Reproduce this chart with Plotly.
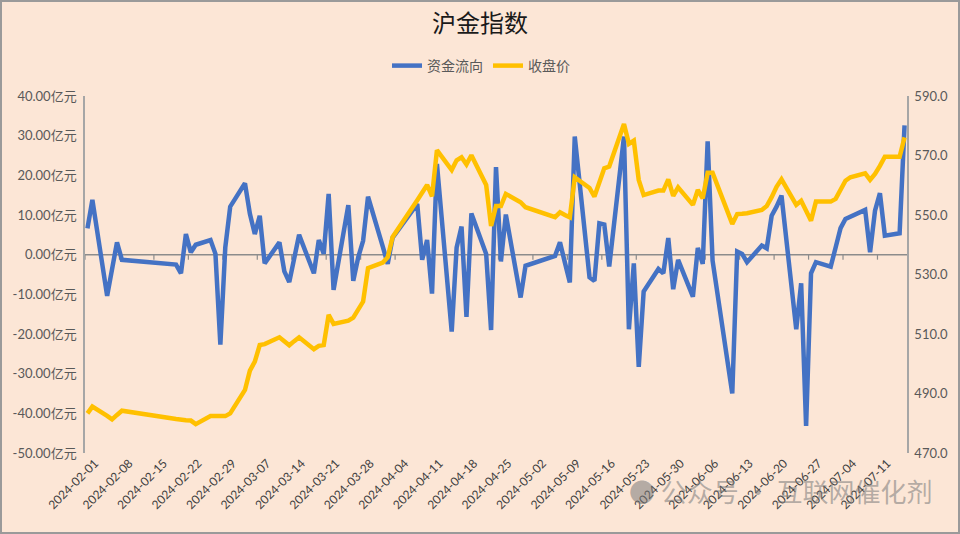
import plotly.graph_objects as go
from datetime import datetime, timedelta

# ---------------- data ----------------
dates = [
    "2024-02-01", "2024-02-02", "2024-02-05", "2024-02-06", "2024-02-07", "2024-02-08",
    "2024-02-19", "2024-02-20", "2024-02-21", "2024-02-22", "2024-02-23",
    "2024-02-26", "2024-02-27", "2024-02-28", "2024-02-29", "2024-03-01",
    "2024-03-04", "2024-03-05", "2024-03-06", "2024-03-07", "2024-03-08",
    "2024-03-11", "2024-03-12", "2024-03-13", "2024-03-14", "2024-03-15",
    "2024-03-18", "2024-03-19", "2024-03-20", "2024-03-21", "2024-03-22",
    "2024-03-25", "2024-03-26", "2024-03-27", "2024-03-28", "2024-03-29",
    "2024-04-01", "2024-04-02", "2024-04-03",
    "2024-04-08", "2024-04-09", "2024-04-10", "2024-04-11", "2024-04-12",
    "2024-04-15", "2024-04-16", "2024-04-17", "2024-04-18", "2024-04-19",
    "2024-04-22", "2024-04-23", "2024-04-24", "2024-04-25", "2024-04-26",
    "2024-04-29", "2024-04-30",
    "2024-05-06", "2024-05-07", "2024-05-08", "2024-05-09", "2024-05-10",
    "2024-05-13", "2024-05-14", "2024-05-15", "2024-05-16", "2024-05-17",
    "2024-05-20", "2024-05-21", "2024-05-22", "2024-05-23", "2024-05-24",
    "2024-05-27", "2024-05-28", "2024-05-29", "2024-05-30", "2024-05-31",
    "2024-06-03", "2024-06-04", "2024-06-05", "2024-06-06", "2024-06-07",
    "2024-06-11", "2024-06-12", "2024-06-13", "2024-06-14",
    "2024-06-17", "2024-06-18", "2024-06-19", "2024-06-20", "2024-06-21",
    "2024-06-24", "2024-06-25", "2024-06-26", "2024-06-27", "2024-06-28",
    "2024-07-01", "2024-07-02", "2024-07-03", "2024-07-04", "2024-07-05",
    "2024-07-08", "2024-07-09", "2024-07-10", "2024-07-11", "2024-07-12",
    "2024-07-15", "2024-07-16",
]

flow = [  # 资金流向 (亿元)
    6.6, 13.8, -10.4, -3.6, 3.1, -1.3,
    -2.5, -4.7, 5.2, 0.6, 2.5,
    3.7, 0.2, -22.7, 1.8, 12.1,
    18.0, 10.3, 5.2, 9.8, -2.2,
    3.1, -4.2, -6.9, -1.0, 5.0,
    -4.7, 3.7, 0.2, 15.3, -8.9,
    12.5, -6.6, -0.7, 3.5, 14.6,
    2.0, -2.3, 4.3,
    12.8, -1.3, 3.7, -9.8, 22.9,
    -19.4, 1.8, 7.1, -15.7, 10.4,
    0.2, -19.0, 22.1, -1.7, 10.1,
    -10.8, -2.8,
    -0.3, 3.1, -2.0, -7.0, 29.8,
    -5.7, -6.6, 7.9, 7.6, -3.0,
    29.8, -18.8, -2.2, -28.3, -9.3,
    -3.6, -4.7, 4.2, -8.7, -1.3,
    -10.6, 1.7, -2.3, 28.6, -1.5,
    -35.0, 0.8, 0.2, -1.9,
    2.3, 1.6, 9.8, 12.1, 14.9,
    -18.8, -7.2, -43.2, -4.7, -1.9,
    -3.0, 1.8, 6.7, 9.0, 9.6,
    11.3, 0.6, 11.1, 15.5, 4.8,
    5.4, 32.6,
]

close = [  # 收盘价
    483.3, 485.6, 482.5, 481.3, 482.8, 484.2,
    481.4, 481.1, 481.0, 480.9, 479.7,
    482.4, 482.4, 482.4, 482.4, 483.3,
    491.2, 497.7, 500.7, 506.3, 506.6,
    508.9, 507.5, 506.2, 507.6, 508.9,
    504.9, 506.0, 506.3, 516.4, 513.4,
    514.5, 515.5, 518.3, 520.9, 532.1,
    534.0, 535.8, 542.6,
    555.0, 557.5, 560.1, 556.3, 571.8,
    565.1, 568.4, 569.4, 567.0, 570.1,
    560.1, 546.3, 553.0, 553.0, 557.1,
    554.3, 552.6,
    549.3, 550.9, 550.0, 549.2, 562.7,
    559.1, 556.2, 561.0, 565.7, 566.3,
    580.6, 573.9, 575.0, 561.8, 556.7,
    558.2, 558.2, 562.0, 556.4, 559.3,
    553.4, 558.4, 555.6, 564.2, 564.2,
    547.0, 550.3, 550.4, 550.6,
    551.7, 553.0, 556.0, 559.5, 562.0,
    553.4, 554.8, 551.5, 548.1, 554.5,
    554.5, 555.4, 558.6, 561.5, 562.7,
    564.0, 561.8, 563.8, 566.5, 569.6,
    569.6, 576.1,
]

tick_labels = [
    "2024-02-01", "2024-02-08", "2024-02-15", "2024-02-22", "2024-02-29",
    "2024-03-07", "2024-03-14", "2024-03-21", "2024-03-28", "2024-04-04",
    "2024-04-11", "2024-04-18", "2024-04-25", "2024-05-02", "2024-05-09",
    "2024-05-16", "2024-05-23", "2024-05-30", "2024-06-06", "2024-06-13",
    "2024-06-20", "2024-06-27", "2024-07-04", "2024-07-11",
]

left_ticks = [-50, -40, -30, -20, -10, 0, 10, 20, 30, 40]
left_tick_text = [f"{v:.2f}亿元" for v in left_ticks]
right_ticks = [470, 490, 510, 530, 550, 570, 590]
right_tick_text = [f"{v:.1f}" for v in right_ticks]

# ---------------- styling ----------------
BG = "#FCE6D6"
AXIS = "#A6A6A6"
TXT = "#595959"
FONT = "Lato, 'Noto Sans CJK SC', sans-serif"
CJK = "'Noto Sans CJK SC', sans-serif"

fmt = "%Y-%m-%d %H:%M"
def shift(d, hours):
    return (datetime.strptime(d, "%Y-%m-%d") + timedelta(hours=hours)).strftime(fmt)

x_start = shift(dates[0], -12)
x_end = shift(dates[-1], 12)
tick_edges = [shift(t, -12) for t in tick_labels]      # Excel slot edges
label_pos = [shift(t, 36) for t in tick_labels]        # label anchors

fig = go.Figure()
fig.add_trace(go.Scatter(
    x=dates, y=flow, name="资金流向", mode="lines",
    line=dict(color="#4472C4", width=4.5), yaxis="y",
))
fig.add_trace(go.Scatter(
    x=dates, y=close, name="收盘价", mode="lines",
    line=dict(color="#FFC000", width=4.5), yaxis="y2",
))

shapes = [
    dict(type="line", xref="paper", yref="y", x0=0, x1=1, y0=0, y1=0,
         line=dict(color="#8C8C8C", width=1.5), layer="below"),
    dict(type="rect", xref="paper", yref="paper",
         x0=(1 - 85) / 822, x1=(959 - 85) / 822,
         y0=(453 - 533) / 357, y1=(453 - 1) / 357,
         line=dict(color="#9A9A9A", width=2), fillcolor="rgba(0,0,0,0)", layer="below"),
]
for t in tick_edges:
    shapes.append(dict(type="line", xref="x", yref="y", x0=t, x1=t,
                       ysizemode="pixel", yanchor=0, y0=0, y1=-5,
                       line=dict(color="#8C8C8C", width=1.2), layer="below"))

fig.update_layout(
    width=960, height=534,
    margin=dict(l=85, r=53, t=96, b=81),
    paper_bgcolor=BG, plot_bgcolor=BG,
    font=dict(family=FONT, color=TXT),
    title=dict(text="沪金指数", x=0.5, xanchor="center", y=1 - 24 / 534, yanchor="middle",
               font=dict(size=24, color="#1a1a1a", family=CJK)),
    legend=dict(orientation="h", x=(481 - 85) / 822, xanchor="center",
                y=(453 - 66) / 357, yanchor="middle",
                font=dict(size=14, color=TXT, family=CJK), bgcolor="rgba(0,0,0,0)",
                itemwidth=30, tracegroupgap=0),
    xaxis=dict(type="date", range=[x_start, x_end], tickmode="array",
               tickvals=label_pos, ticktext=tick_labels, tickangle=-45,
               showgrid=False, showline=False, zeroline=False, ticks="",
               tickfont=dict(size=12, color="#404040", family=FONT)),
    yaxis=dict(range=[-50, 40], tickmode="array", tickvals=left_ticks,
               ticktext=left_tick_text, ticklabelstandoff=4,
               showgrid=False, zeroline=False, showline=True,
               linecolor=AXIS, linewidth=1.5, ticks="",
               tickfont=dict(size=13, color=TXT, family=FONT)),
    yaxis2=dict(range=[470, 590], overlaying="y", side="right", tickmode="array",
                tickvals=right_ticks, ticktext=right_tick_text, ticklabelstandoff=3,
                showgrid=False, zeroline=False, showline=True,
                linecolor=AXIS, linewidth=1.5, ticks="",
                tickfont=dict(size=13, color=TXT, family=FONT)),
    shapes=shapes,
    annotations=[
        dict(text="● 公众号 · 互联网催化剂", xref="paper", yref="paper",
             x=(780 - 85) / 822, y=(453 - 490) / 357, xanchor="center", yanchor="middle",
             showarrow=False, font=dict(size=26, color="rgba(120,120,120,0.55)", family=CJK)),
    ],
)

fig.write_html("out.html")
